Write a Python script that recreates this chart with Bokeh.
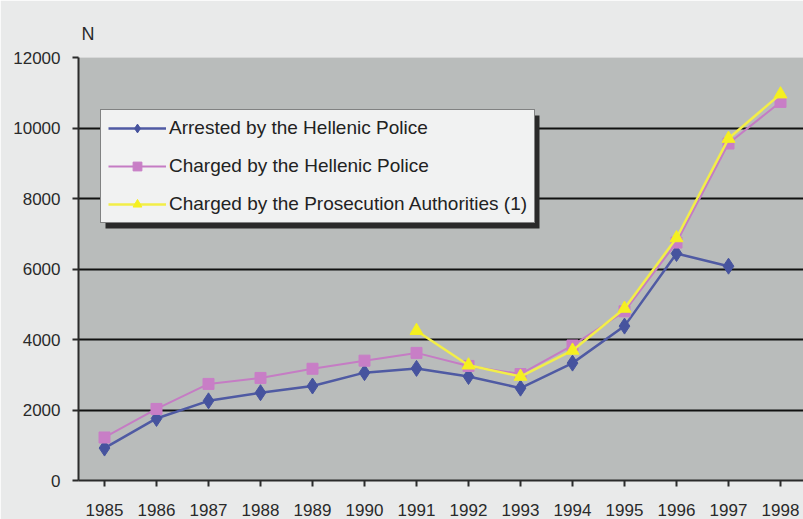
from bokeh.plotting import figure
from bokeh.models import (FixedTicker, Legend, LegendItem, Range1d, BoxAnnotation)
from bokeh.embed import file_html
from bokeh.resources import INLINE

NA = float("nan")
years = [1985, 1986, 1987, 1988, 1989, 1990, 1991, 1992, 1993, 1994, 1995, 1996, 1997, 1998]
arrested = [920, 1760, 2260, 2490, 2680, 3060, 3180, 2950, 2620, 3330, 4380, 6440, 6080, NA]
charged_police = [1220, 2030, 2740, 2910, 3170, 3400, 3620, 3250, 3020, 3830, 4800, 6750, 9560, 10740]
charged_prosecution = [NA, NA, NA, NA, NA, NA, 4250, 3270, 2950, 3690, 4880, 6880, 9700, 10960]
y_ticks = [0, 2000, 4000, 6000, 8000, 10000, 12000]
labels = ["Arrested by the Hellenic Police",
          "Charged by the Hellenic Police",
          "Charged by the Prosecution Authorities (1)"]

FONT = "Liberation Sans"
W, H = 803, 519
left_px, top_px, bottom_px = 78, 57, 480
px_per_year = 52.0
x0 = years[0] - 0.5
x1 = x0 + (W - left_px) / px_per_year
ymax = y_ticks[-1]

p = figure(width=W, height=H, output_backend="svg", toolbar_location=None,
           x_range=Range1d(x0, x1), y_range=Range1d(0, ymax),
           min_border_left=left_px, min_border_right=0,
           min_border_top=top_px, min_border_bottom=H - bottom_px)
p.border_fill_color = "#e9eaea"
p.background_fill_color = "#b9bcbb"
p.outline_line_color = None

p.title.text = "N"
p.title.text_font = FONT
p.title.text_font_size = "18px"
p.title.text_font_style = "normal"
p.title.text_color = "#2a2a2a"
p.title.align = "left"
p.title.offset = 3
p.title.standoff = 28

# axes
p.xaxis.ticker = FixedTicker(ticks=years, minor_ticks=[y + 0.5 for y in years[:-1]] + [x0])
p.xaxis.major_label_overrides = {y: str(y) for y in years}
p.xaxis.major_tick_out = 6
p.xaxis.major_tick_in = 0
p.xaxis.minor_tick_out = 6
p.xaxis.minor_tick_in = 0
p.xaxis.major_label_standoff = 17
p.yaxis.ticker = FixedTicker(ticks=y_ticks)
p.yaxis.minor_tick_line_color = None
p.yaxis.major_tick_out = 6
p.yaxis.major_tick_in = 0
p.yaxis.major_label_standoff = 12
for ax in (p.xaxis, p.yaxis):
    ax.axis_line_color = "#2b2b2b"
    ax.axis_line_width = 2
    ax.major_tick_line_color = "#2b2b2b"
    ax.major_tick_line_width = 2
    ax.minor_tick_line_color = "#2b2b2b" if ax is p.xaxis else None
    ax.minor_tick_line_width = 2
    ax.major_label_text_font = FONT
    ax.major_label_text_font_size = "17px"
    ax.major_label_text_color = "#2a2a2a"

p.xgrid.grid_line_color = None
p.ygrid.ticker = FixedTicker(ticks=y_ticks[1:])
p.ygrid.grid_line_color = "#111111"
p.ygrid.grid_line_width = 2

# series
blue_line = p.line(years, arrested, line_color="#4f5aa3", line_width=2.5)
blue_pts = p.scatter(years, arrested, marker="diamond", size=16,
                     fill_color="#46539e", line_color="#46539e")
pink_line = p.line(years, charged_police, line_color="#c57cc4", line_width=2)
pink_pts = p.scatter(years, charged_police, marker="square", size=11,
                     fill_color="#c87ec6", line_color="#c87ec6")
yel_line = p.line(years, charged_prosecution, line_color="#f2ee48", line_width=2.5)
yel_pts = p.scatter(years, charged_prosecution, marker="triangle", size=13,
                    fill_color="#f5f020", line_color="#f5f020")

# legend shadow (decoration)
def xd(px):
    return x0 + (px - left_px) / px_per_year

def yd(py):
    return (bottom_px - py) * ymax / (bottom_px - top_px)

shadow = BoxAnnotation(left=xd(105), right=xd(539), top=yd(115), bottom=yd(228),
                       fill_color="#2a2a2a", fill_alpha=1.0, line_color=None)
p.add_layout(shadow)

legend = Legend(items=[
    LegendItem(label=labels[0], renderers=[blue_line, blue_pts]),
    LegendItem(label=labels[1], renderers=[pink_line, pink_pts]),
    LegendItem(label=labels[2], renderers=[yel_line, yel_pts]),
], location=(22, 257), margin=0)
legend.padding = 7
legend.spacing = 16
legend.glyph_width = 58
legend.glyph_height = 22
legend.label_height = 22
legend.label_standoff = 3
legend.label_text_font = FONT
legend.label_text_font_size = "19px"
legend.label_text_color = "#222222"
legend.background_fill_color = "#f1f2f2"
legend.background_fill_alpha = 1.0
legend.border_line_color = "#111111"
legend.border_line_width = 1.5
p.add_layout(legend, "center")

open("out.html", "w").write(file_html(p, INLINE))
